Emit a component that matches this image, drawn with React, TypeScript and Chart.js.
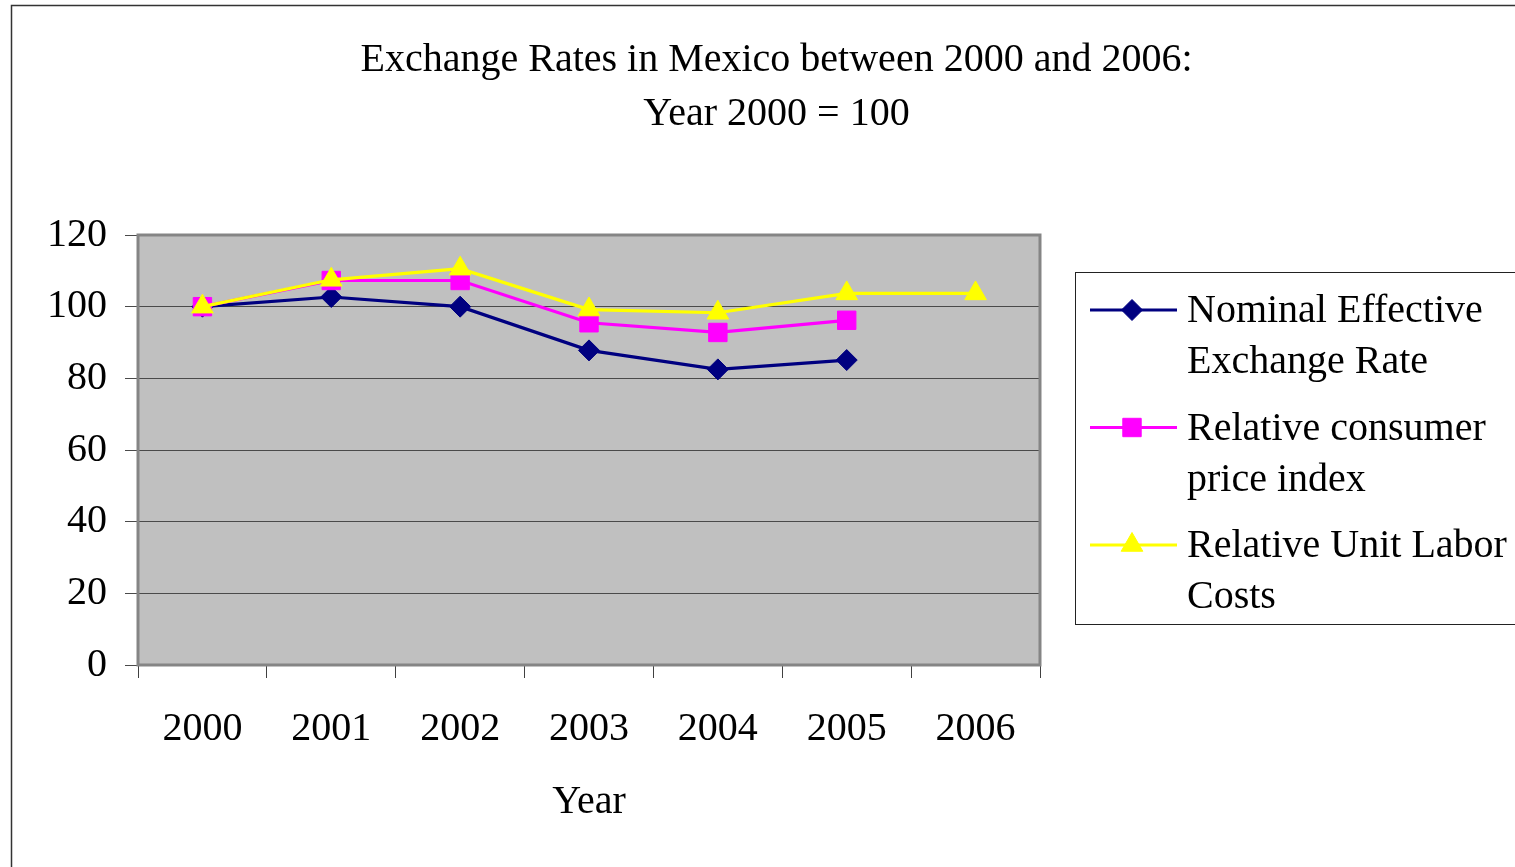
import React, { useEffect, useRef } from 'react';
import { Chart, registerables } from 'chart.js';
import { drawPoint } from 'chart.js/helpers';

Chart.register(...registerables);

const FONT = "'Liberation Serif', 'Times New Roman', serif";

const years = ['2000', '2001', '2002', '2003', '2004', '2005', '2006'];
const nominalEffective = [100, 102.7, 100, 87.8, 82.5, 85.1, null];
const relativeCpi = [100, 107.3, 107.3, 95.5, 92.8, 96.2, null];
const relativeUlc = [100, 107.5, 110.6, 99.2, 98.3, 103.7, 103.7];

const seriesLabels = [
  ['Nominal Effective', 'Exchange Rate'],
  ['Relative consumer', 'price index'],
  ['Relative Unit Labor', 'Costs'],
];
const seriesColors = ['#000080', '#FF00FF', '#FFFF00'];
const seriesStyles = ['rectRot', 'rect', 'triangle'];
const seriesRadius = [10.5, 13, 12.5];

const titleLines = ['Exchange Rates in Mexico between 2000 and 2006:', 'Year 2000 = 100'];
const xAxisTitle = 'Year';
const yMin = 0;
const yMax = 120;
const yStep = 20;

const backgroundPlugin = {
  id: 'bgFrame',
  beforeDraw(chart: any) {
    const { ctx, chartArea, width, height } = chart;
    ctx.save();
    ctx.fillStyle = '#ffffff';
    ctx.fillRect(0, 0, width, height);
    ctx.strokeStyle = '#333333';
    ctx.lineWidth = 1.5;
    ctx.beginPath();
    ctx.moveTo(11.5, height + 2);
    ctx.lineTo(11.5, 5.5);
    ctx.lineTo(width + 2, 5.5);
    ctx.stroke();
    ctx.fillStyle = '#C0C0C0';
    ctx.fillRect(chartArea.left, chartArea.top, chartArea.right - chartArea.left, chartArea.bottom - chartArea.top);
    ctx.restore();
  },
  beforeDatasetsDraw(chart: any) {
    const { ctx, chartArea } = chart;
    ctx.save();
    ctx.strokeStyle = '#858585';
    ctx.lineWidth = 3;
    ctx.strokeRect(chartArea.left, chartArea.top, chartArea.right - chartArea.left, chartArea.bottom - chartArea.top);
    ctx.restore();
  },
};

const legendPlugin = {
  id: 'customLegend',
  afterDraw(chart: any) {
    const { ctx } = chart;
    ctx.save();
    ctx.strokeStyle = '#222222';
    ctx.lineWidth = 1;
    ctx.strokeRect(1075.5, 272.5, 460, 352);
    const firstBaselines = [322, 439.5, 557];
    const lineGap = 51;
    chart.data.datasets.forEach((ds: any, i: number) => {
      const yMid = firstBaselines[i] - 12;
      ctx.strokeStyle = ds.borderColor;
      ctx.lineWidth = 3;
      ctx.beginPath();
      ctx.moveTo(1090, yMid);
      ctx.lineTo(1177, yMid);
      ctx.stroke();
      ctx.fillStyle = ds.pointBackgroundColor;
      ctx.strokeStyle = ds.pointBorderColor;
      ctx.lineWidth = 1;
      drawPoint(ctx, { pointStyle: ds.pointStyle, radius: ds.pointRadius, rotation: 0, borderWidth: 1 }, 1132, yMid);
      ctx.fillStyle = '#000000';
      ctx.font = `40px ${FONT}`;
      ctx.textBaseline = 'alphabetic';
      ctx.textAlign = 'left';
      seriesLabels[i].forEach((line, j) => {
        ctx.fillText(line, 1187, firstBaselines[i] + j * lineGap);
      });
    });
    ctx.restore();
  },
};

export default function App() {
  const canvasRef = useRef<HTMLCanvasElement | null>(null);

  useEffect(() => {
    if (!canvasRef.current) return;
    const datasets = [nominalEffective, relativeCpi, relativeUlc].map((data, i) => ({
      label: seriesLabels[i].join(' '),
      data,
      borderColor: seriesColors[i],
      backgroundColor: seriesColors[i],
      pointBackgroundColor: seriesColors[i],
      pointBorderColor: seriesColors[i],
      pointStyle: seriesStyles[i],
      pointRadius: seriesRadius[i],
      pointBorderWidth: 1,
      borderWidth: 3.2,
      tension: 0,
      spanGaps: false,
      order: 2 - i,
    }));

    const chart = new Chart(canvasRef.current, {
      type: 'line',
      data: { labels: years, datasets },
      options: {
        responsive: false,
        animation: false,
        events: [],
        layout: { padding: { left: 38, right: 0, top: 0, bottom: 0 } },
        plugins: {
          legend: { display: false },
          tooltip: { enabled: false },
          title: {
            display: true,
            text: titleLines,
            color: '#000000',
            font: { family: FONT, size: 40, weight: 'normal', lineHeight: 1.35 },
            padding: { top: 33, bottom: 94 },
          },
        },
        scales: {
          x: {
            type: 'category',
            offset: true,
            grid: {
              offset: true,
              drawOnChartArea: false,
              drawTicks: true,
              tickLength: 13,
              color: '#404040',
              lineWidth: 1,
            },
            border: { display: false },
            ticks: {
              color: '#000000',
              font: { family: FONT, size: 40 },
              padding: 27,
              maxRotation: 0,
              autoSkip: false,
            },
            title: {
              display: true,
              text: xAxisTitle,
              color: '#000000',
              font: { family: FONT, size: 40, lineHeight: 1.2 },
              padding: { top: 0, bottom: 41 },
            },
            afterFit: (s: any) => {
              s.height = 202;
            },
          },
          y: {
            type: 'linear',
            min: yMin,
            max: yMax,
            grid: {
              color: '#4a4a4a',
              lineWidth: 1,
              tickLength: 13,
              drawTicks: true,
            },
            border: { display: false },
            ticks: {
              stepSize: yStep,
              color: '#000000',
              font: { family: FONT, size: 40 },
              padding: 18,
            },
            afterFit: (s: any) => {
              s.width = 100;
            },
          },
          yRight: {
            type: 'linear',
            position: 'right',
            display: true,
            grid: { display: false },
            ticks: { display: false },
            border: { display: false },
            afterFit: (s: any) => {
              s.width = 475;
            },
          },
        },
      },
      plugins: [backgroundPlugin, legendPlugin],
    } as any);

    return () => chart.destroy();
  }, []);

  return (
    <div style={{ position: 'fixed', left: 0, top: 0, width: 1515, height: 867, background: '#fff' }}>
      <canvas ref={canvasRef} width={1515} height={867} style={{ display: 'block' }} />
    </div>
  );
}
